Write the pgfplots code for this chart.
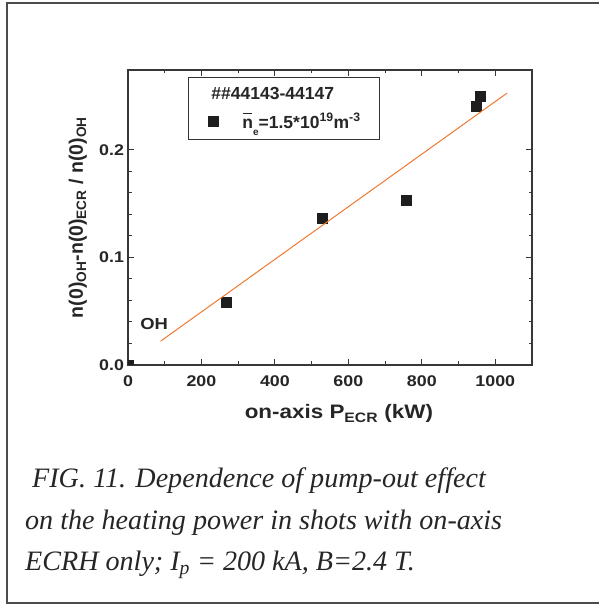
\documentclass[border=0pt]{standalone}
\usepackage{fontspec}
\setmainfont{Liberation Serif}
\setsansfont{Liberation Sans}
\usepackage{pgfplots}
\pgfplotsset{compat=1.18}

\definecolor{fitorange}{RGB}{240,120,48}
\definecolor{axgray}{RGB}{55,55,55}
\definecolor{mk}{RGB}{30,30,30}

\pgfplotstableread{
x y
0 0
268 0.0586
529 0.136
758 0.153
948 0.240
959 0.250
}\datatab

\pgfplotstableread{
x y
89 0.0222
1032 0.2525
}\fittab

\newcommand{\nbar}{\makebox[0pt][l]{\hspace{0.06em}\raisebox{0.78em}{\rule{0.5em}{1.3pt}}}n}

\begin{document}
\begin{tikzpicture}
\path[use as bounding box] (0pt,0pt) rectangle (599pt,606pt);
\draw[color=black!70, line width=1.6pt] (599pt,603pt) -- (7pt,603pt) -- (7pt,3pt) -- (599pt,3pt);
\begin{axis}[
  at={(128pt,241pt)}, anchor=south west,
  width=404pt, height=295pt, scale only axis,
  xmin=0, xmax=1100, ymin=0, ymax=0.274,
  xtick={0,200,...,1000}, minor x tick num=1,
  ytick={0,0.1,0.2}, minor y tick num=4,
  tick align=inside,
  major tick length=6pt, minor tick length=3.5pt,
  every tick/.style={axgray, line width=1pt},
  axis line style={axgray, line width=1.3pt},
  clip=true, clip marker paths=true,
  /pgf/number format/assume math mode=true,
  tick label style={font=\sffamily\bfseries\fontsize{15.5}{18}\selectfont, xscale=1.15, text=black!85},
  xticklabel style={/pgf/number format/1000 sep={}, yshift=-7pt},
  yticklabel style={/pgf/number format/.cd, fixed, fixed zerofill, precision=1},
  xlabel={on-axis P\textsubscript{ECR} (kW)},
  xlabel style={font=\sffamily\bfseries\fontsize{19.5}{22}\selectfont, xscale=1.15, text=black!85,
    at={(axis description cs:0.522,-0.183)}, anchor=base},
  ylabel={n(0)\textsubscript{OH}-n(0)\textsubscript{ECR} / n(0)\textsubscript{OH}},
  ylabel style={font=\sffamily\bfseries\fontsize{19.5}{22}\selectfont, text=black!85,
    at={(axis description cs:-0.124,0.5)}, anchor=center},
  legend style={at={(rel axis cs:0.1485,0.976)}, anchor=north west,
    draw=black!80, line width=0.8pt,
    font=\sffamily\bfseries\fontsize{17.5}{20}\selectfont, text=black!85,
    inner xsep=16.5pt, inner ysep=7.5pt, row sep=8.5pt,
    /tikz/every odd column/.append style={column sep=22pt}},
  legend cell align=left,
]
\addlegendimage{empty legend}
\addlegendentry{\hspace*{-31pt}\#\#44143-44147}
\addplot[only marks, mark=square*, mark size=5pt, mark options={fill=mk, draw=mk}] table[x=x,y=y] {\datatab};
\addlegendentry{\nbar\raisebox{-0.42em}{\fontsize{10}{10}\selectfont e}=1.5*10\textsuperscript{19}m\textsuperscript{-3}}
\addplot[fitorange, line width=1pt, forget plot] table[x=x,y=y] {\fittab};
\node[font=\sffamily\bfseries\fontsize{16}{18}\selectfont, xscale=1.15, text=black!85] at (axis cs:71,0.038) {OH};
\end{axis}
\begin{scope}[font=\itshape\fontsize{28.1}{30}\selectfont, text=black!85]
\node[anchor=base west, inner sep=0pt] at (32pt,118pt) {FIG. 11. Dependence of pump-out effect};
\node[anchor=base west, inner sep=0pt] at (25pt,76pt) {on the heating power in shots with on-axis};
\node[anchor=base west, inner sep=0pt] at (25pt,35pt) {ECRH only; I\textsubscript{p} = 200 kA, B=2.4 T.};
\end{scope}
\end{tikzpicture}
\end{document}
